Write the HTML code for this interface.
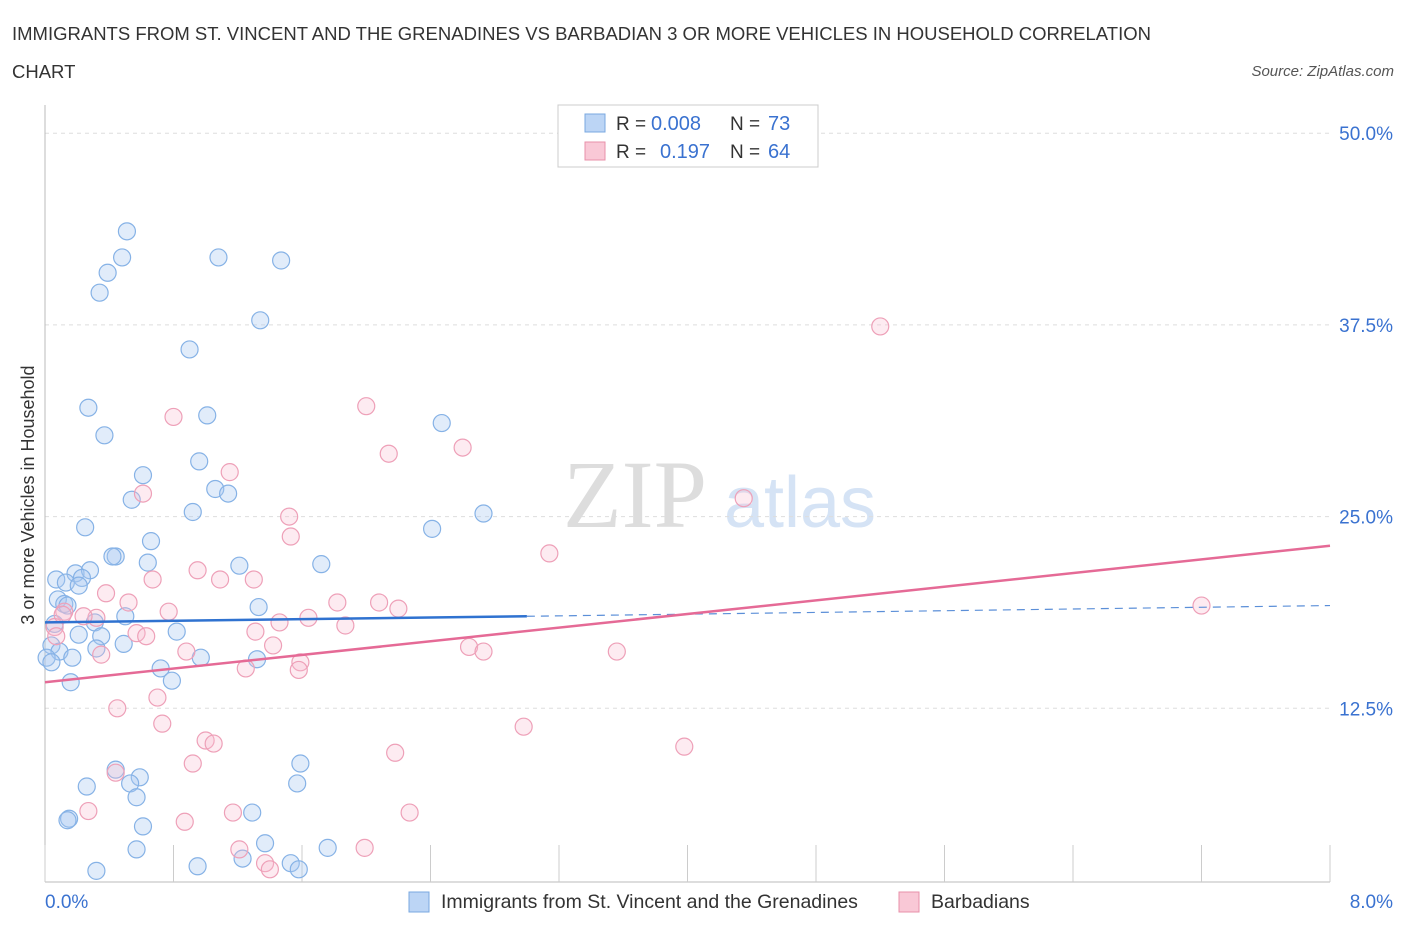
<!DOCTYPE html>
<html><head><meta charset="utf-8"><style>
body{margin:0;background:#fff;font-family:"Liberation Sans",sans-serif;}
</style></head><body>
<svg id="chart" width="1406" height="930" xmlns="http://www.w3.org/2000/svg" font-family="Liberation Sans, sans-serif">
<text x="12" y="40" font-size="18.5" fill="#333">IMMIGRANTS FROM ST. VINCENT AND THE GRENADINES VS BARBADIAN 3 OR MORE VEHICLES IN HOUSEHOLD CORRELATION</text>
<text x="12" y="78" font-size="18.5" fill="#333">CHART</text>
<text x="1394" y="76" font-size="15" fill="#555" font-style="italic" text-anchor="end">Source: ZipAtlas.com</text>
<g>
<text x="635" y="527" font-size="96" font-family="Liberation Serif, serif" fill="#ddd" text-anchor="middle">ZIP</text>
<text x="800" y="527" font-size="72" fill="#d5e3f5" text-anchor="middle">atlas</text>
</g>
<g id="grid"></g><g id="axes"></g><g id="marks"></g>
<g>
<rect x="558" y="105" width="260" height="62" fill="#fff" stroke="#ccc"/>
<rect x="585" y="114" width="20" height="18" fill="#bcd5f5" stroke="#7aa8e0"/>
<text x="616" y="130" font-size="19" fill="#333">R =</text>
<text x="651" y="130" font-size="20" fill="#3a72d0">0.008</text>
<text x="730" y="130" font-size="19" fill="#333">N =</text>
<text x="768" y="130" font-size="20" fill="#3a72d0">73</text>
<rect x="585" y="142" width="20" height="18" fill="#f9c8d6" stroke="#e890aa"/>
<text x="616" y="158" font-size="19" fill="#333">R =</text>
<text x="660" y="158" font-size="20" fill="#3a72d0">0.197</text>
<text x="730" y="158" font-size="19" fill="#333">N =</text>
<text x="768" y="158" font-size="20" fill="#3a72d0">64</text>
</g>
<g>
<rect x="409" y="892" width="20" height="20" fill="#bcd5f5" stroke="#7aa8e0"/>
<text x="441" y="908" font-size="19.5" fill="#333">Immigrants from St. Vincent and the Grenadines</text>
<rect x="899" y="892" width="20" height="20" fill="#f9c8d6" stroke="#e890aa"/>
<text x="931" y="908" font-size="19.5" fill="#333">Barbadians</text>
</g>
<text transform="translate(34,495) rotate(-90)" font-size="18" fill="#333" text-anchor="middle">3 or more Vehicles in Household</text>
</svg>
<script>
const blueX=[0.51,0.48,0.39,1.08,1.47,0.34,1.34,0.90,0.27,1.01,2.47,0.37,0.96,0.61,1.06,1.14,0.54,0.92,2.73,0.25,2.41,0.66,0.44,0.42,0.64,1.21,1.72,0.07,0.19,0.28,0.13,0.23,0.21,0.08,0.12,0.14,1.33,0.50,0.31,0.06,0.21,0.35,0.82,0.49,0.32,0.04,0.09,0.17,0.97,1.32,0.01,0.04,0.72,0.79,0.16,0.44,0.59,1.59,0.26,0.53,1.57,0.57,1.29,0.15,0.14,0.61,1.37,0.57,1.76,1.23,0.95,1.53,0.32,1.58];
const blueY=[43.6,41.9,40.9,41.9,41.7,39.6,37.8,35.9,32.1,31.6,31.1,30.3,28.6,27.7,26.8,26.5,26.1,25.3,25.2,24.3,24.2,23.4,22.4,22.4,22.0,21.8,21.9,20.9,21.3,21.5,20.7,21.0,20.5,19.6,19.3,19.2,19.1,18.5,18.1,18.0,17.3,17.2,17.5,16.7,16.4,16.6,16.2,15.8,15.8,15.7,15.8,15.5,15.1,14.3,14.2,8.5,8.0,8.9,7.4,7.6,7.6,6.7,5.7,5.3,5.2,4.8,3.7,3.3,3.4,2.7,2.2,2.4,1.9,2.0];
const pinkX=[5.20,2.00,0.80,2.60,2.14,1.15,0.61,4.35,1.52,1.53,3.14,0.95,0.67,1.09,1.30,0.38,0.52,1.82,2.08,2.20,7.20,0.12,0.32,0.77,1.64,1.87,1.46,0.06,0.07,0.57,0.63,1.31,0.24,0.11,1.42,0.88,2.64,2.73,3.56,1.59,1.58,1.25,0.35,0.70,0.45,0.73,2.98,3.98,1.00,1.05,0.92,2.18,0.44,0.27,1.17,2.27,0.87,1.21,1.99,1.37,1.40];
const pinkY=[37.4,32.2,31.5,29.5,29.1,27.9,26.5,26.2,25.0,23.7,22.6,21.5,20.9,20.9,20.9,20.0,19.4,19.4,19.4,19.0,19.2,18.8,18.4,18.8,18.4,17.9,18.1,17.8,17.2,17.4,17.2,17.5,18.5,18.6,16.6,16.2,16.5,16.2,16.2,15.5,15.0,15.1,16.0,13.2,12.5,11.5,11.3,10.0,10.4,10.2,8.9,9.6,8.3,5.8,5.7,5.7,5.1,3.3,3.4,2.4,2.0];
const blueTrend=[[0,18.1],[3.0,18.5],[8.0,19.2]];
const pinkTrend=[[0,14.2],[8.0,23.1]];
const yTicks=[12.5,25,37.5,50];
const xTickLabels=["0.0%","8.0%"];
const X0=45,X1=1330,Y0=900,YPX=191.7/12.5;
const sx=v=>X0+(v/8)*(X1-X0), sy=v=>Y0-v*YPX;
const NS="http://www.w3.org/2000/svg";
function mk(tag,attrs,parent){const e=document.createElementNS(NS,tag);for(const k in attrs)e.setAttribute(k,attrs[k]);document.getElementById(parent).appendChild(e);return e;}
yTicks.forEach(t=>{
 const g=mk('line',{x1:X0,x2:X1,y1:sy(t),y2:sy(t),stroke:'#ddd','stroke-dasharray':'4,4'},'grid');
 
 
 const l=mk('text',{x:1393,y:sy(t)+7,'font-size':19,fill:'#3a72d0','text-anchor':'end'},'axes');
 l.textContent=t.toFixed(1)+'%';
 
 
});
const ax=mk('line',{x1:X0,x2:X1,y1:882,y2:882,stroke:'#bbb'},'axes');


const ay=mk('line',{x1:X0,x2:X0,y1:105,y2:882,stroke:'#bbb'},'axes');


for(let i=0;i<=10;i++){const t=mk('line',{x1:sx(i*0.8),x2:sx(i*0.8),y1:845,y2:882,stroke:'#ccc'},'axes');
 
 }
[[0,'start',X0],[1,'end',1393]].forEach(([i,a,x])=>{const t=mk('text',{x:x,y:908,'font-size':19,fill:'#3a72d0','text-anchor':a},'axes');t.textContent=xTickLabels[i];
 
 });
function dots(xs,ys,fill,stroke,name){xs.forEach((v,i)=>{const c=mk('circle',{cx:sx(v),cy:sy(ys[i]),r:8.5,fill:fill,stroke:stroke,'stroke-width':1.2},'marks');
 
 });}
dots(blueX,blueY,'rgba(170,200,240,0.35)','#86b2e6','point-immigrants');
dots(pinkX,pinkY,'rgba(248,190,208,0.3)','#eea0b8','point-barbadians');
const b1=mk('line',{x1:sx(blueTrend[0][0]),y1:sy(blueTrend[0][1]),x2:sx(blueTrend[1][0]),y2:sy(blueTrend[1][1]),stroke:'#2f72d0','stroke-width':2.5},'marks');


const b2=mk('line',{x1:sx(blueTrend[1][0]),y1:sy(blueTrend[1][1]),x2:sx(blueTrend[2][0]),y2:sy(blueTrend[2][1]),stroke:'#5b8fd8','stroke-width':1.2,'stroke-dasharray':'8,6'},'marks');


const p1=mk('line',{x1:sx(pinkTrend[0][0]),y1:sy(pinkTrend[0][1]),x2:sx(pinkTrend[1][0]),y2:sy(pinkTrend[1][1]),stroke:'#e56a96','stroke-width':2.5},'marks');


</script>
</body></html>
